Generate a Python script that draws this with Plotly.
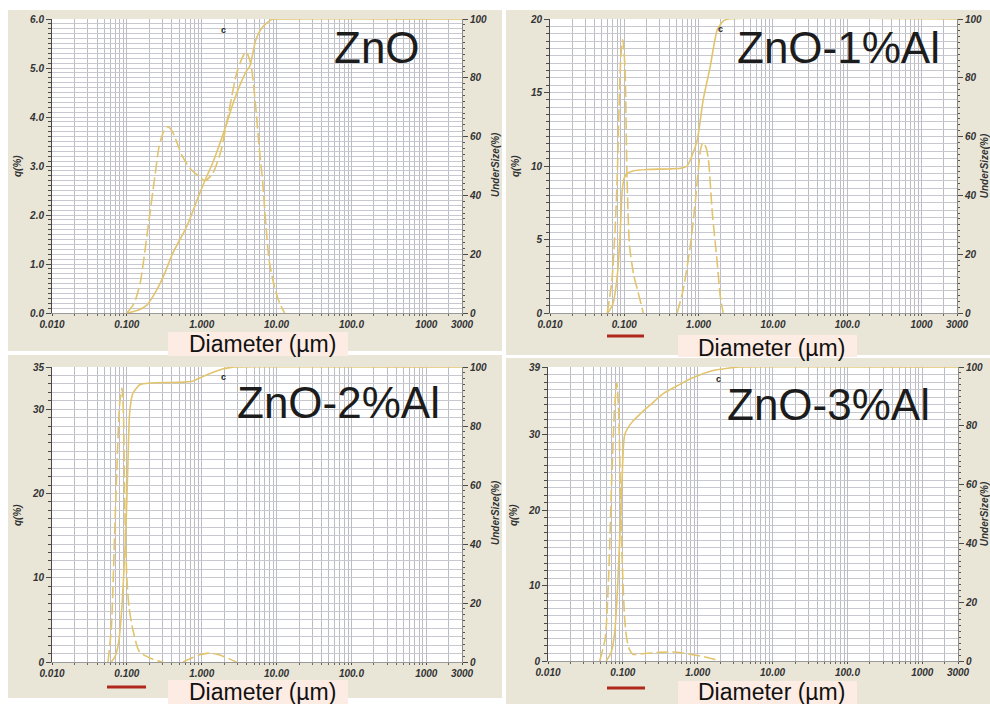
import plotly.graph_objects as go

W, H = 990, 704

# ---------------------------------------------------------------------------
# Particle size distributions: frequency q(%) and cumulative undersize (%)
# against particle diameter (µm).
# ---------------------------------------------------------------------------
zno_q_d = [0.100, 0.125, 0.150, 0.190, 0.235, 0.270, 0.310, 0.350, 0.400, 0.550,
           0.700, 0.900, 1.10, 1.40, 1.80, 2.30, 3.00, 3.90, 4.50, 5.20,
           5.90, 6.50, 7.20, 8.00, 9.50, 11.0, 12.8]
zno_q = [0.0, 0.2, 0.6, 1.7, 2.75, 3.4, 3.7, 3.8, 3.72, 3.2,
         2.95, 2.8, 2.7, 2.85, 3.3, 4.1, 4.95, 5.33, 5.1, 4.3,
         3.33, 2.7, 1.8, 1.05, 0.5, 0.2, 0.0]
zno_u_d = [0.103, 0.140, 0.185, 0.250, 0.320, 0.410, 0.630, 0.940, 1.10, 1.40,
           2.00, 2.60, 3.30, 4.00, 4.40, 5.30, 6.50, 8.50, 9.50, 3000]
zno_u = [0.0, 0.9, 2.7, 7.8, 13.5, 20.3, 29.4, 40.7, 45.0, 51.0,
         62.0, 71.0, 78.0, 82.5, 84.0, 93.0, 97.3, 99.8, 100, 100]

al1_q_d = [0.059, 0.068, 0.075, 0.080, 0.085, 0.090, 0.0955, 0.102, 0.109, 0.118,
           0.135, 0.150, 0.180, None, 0.515, 0.620, 0.770, 0.900, 0.980, 1.07,
           1.15, 1.25, 1.35, 1.53, 1.78, 1.95, 2.14]
al1_q = [0, 2.2, 5.6, 9.0, 14.0, 17.5, 18.6, 16.7, 9.0, 4.5,
         2.5, 1.6, 0, None, 0, 1.6, 4.5, 7.5, 9.5, 11.2,
         11.6, 11.3, 10.5, 6.8, 3.4, 1.2, 0]
al1_u_d = [0.060, 0.070, 0.080, 0.087, 0.094, 0.100, 0.110, 0.130, 0.200, 0.400,
           0.600, 0.700, 0.800, 0.958, 1.15, 1.43, 1.78, 2.14, 2.50, 3000]
al1_u = [0, 3, 12, 25, 42, 46, 47.5, 48.3, 48.8, 49.0,
         49.3, 50.0, 53.0, 58.8, 72.4, 83.7, 96.3, 99.3, 100, 100]

al2_q_d = [0.056, 0.062, 0.069, 0.075, 0.080, 0.086, 0.090, 0.094, 0.100, 0.107,
           0.120, 0.148, 0.220, 0.300, None, 0.56, 0.75, 0.95, 1.28, 1.70,
           2.30, 2.90]
al2_q = [0, 4, 15.7, 25, 30.5, 32.5, 29.5, 18, 10, 6.5,
         3.9, 1.2, 0.35, 0, None, 0, 0.5, 0.85, 1.06, 0.85,
         0.4, 0]
al2_u_d = [0.062, 0.070, 0.078, 0.085, 0.091, 0.097, 0.103, 0.109, 0.120, 0.149,
           0.203, 0.500, 0.757, 0.940, 1.40, 1.90, 2.36, 2.80, 3000]
al2_u = [0, 2, 7, 17, 30, 45, 66, 84.5, 91, 94,
         94.6, 94.8, 95.2, 96.3, 98.1, 99.3, 99.8, 100, 100]

al3_q_d = [0.049, 0.058, 0.065, 0.071, 0.077, 0.083, 0.088, 0.093, 0.099, 0.106,
           0.113, 0.124, 0.136, 0.200, 0.300, 0.420, 0.600, 0.900, 1.30, 1.70,
           1.96]
al3_q = [0, 3, 12, 24, 33, 36.9, 33, 22, 12, 5.5,
         2.9, 1.4, 0.9, 1.0, 1.15, 1.2, 1.1, 0.8, 0.5, 0.2,
         0]
al3_u_d = [0.060, 0.070, 0.078, 0.085, 0.092, 0.098, 0.106, 0.130, 0.170, 0.230,
           0.350, 0.570, 0.800, 1.06, 1.60, 2.50, 3.60, 3000]
al3_u = [0, 3, 10, 25, 45, 63, 77, 81, 84, 87,
         91, 94, 96, 97.3, 98.8, 99.6, 100, 100]

# Axis ticks
x_tickvals = [0.01, 0.1, 1, 10, 100, 1000, 3000]
x_ticktext = ["0.010", "0.100", "1.000", "10.00", "100.0", "1000", "3000"]
u_tickvals = [0, 20, 40, 60, 80, 100]
zno_qticks = [0, 1, 2, 3, 4, 5, 6]
zno_qlabels = ["0.0", "1.0", "2.0", "3.0", "4.0", "5.0", "6.0"]
al1_qticks = [0, 5, 10, 15, 20]
al2_qticks = [0, 10, 20, 30, 35]
al3_qticks = [0, 10, 20, 30, 39]

titles = ["ZnO", "ZnO-1%Al", "ZnO-2%Al", "ZnO-3%Al"]

# ---------------------------------------------------------------------------
# Styling / geometry (pixel units, converted to paper fractions)
# ---------------------------------------------------------------------------
CURVE = "#e2c46c"
BEIGE = "#e9e6d8"
PINK = "#fdece4"
GRID_V = "#bcbcc4"
GRID_H = "#c8c8d0"
AXIS = "#4a4a4a"
TXT = "#333333"


def px(x):
    return x / W


def py(y):
    return 1 - y / H


panels = [
    dict(qd=zno_q_d, q=zno_q, ud=zno_u_d, u=zno_u, qmax=6, qticks=zno_qticks,
         qlabels=zno_qlabels, qminor=0.1, box=(52, 462, 19, 313),
         frame=(8, 502, 10, 351), title_xy=(377, 47),
         diam_box=(168, 348, 332, 356), diam_xy=(262, 344),
         q_lab=(17, 166), u_lab=(495, 165), c_xy=(223, 30)),
    dict(qd=al1_q_d, q=al1_q, ud=al1_u_d, u=al1_u, qmax=20, qticks=al1_qticks,
         qlabels=[str(v) for v in al1_qticks], qminor=0.5, box=(550, 957, 19, 313),
         frame=(506, 990, 10, 355), title_xy=(838, 47),
         diam_box=(678, 857, 335, 357), diam_xy=(771, 348),
         q_lab=(515, 166), u_lab=None, c_xy=(720, 29)),
    dict(qd=al2_q_d, q=al2_q, ud=al2_u_d, u=al2_u, qmax=35, qticks=al2_qticks,
         qlabels=[str(v) for v in al2_qticks], qminor=1, box=(52, 462, 367, 662),
         frame=(8, 502, 355, 698), title_xy=(338, 402),
         diam_box=(168, 348, 680, 704), diam_xy=(262, 691.6),
         q_lab=(17, 515), u_lab=(495, 513), c_xy=(223, 377)),
    dict(qd=al3_q_d, q=al3_q, ud=al3_u_d, u=al3_u, qmax=39, qticks=al3_qticks,
         qlabels=[str(v) for v in al3_qticks], qminor=1, box=(548, 958, 367, 661),
         frame=(506, 990, 358, 704), title_xy=(828, 404),
         diam_box=(678, 857, 681, 704), diam_xy=(771, 691.6),
         q_lab=(513, 515), u_lab=None, c_xy=(718, 379)),
]

underlines = [(607, 644, 336), (107, 146, 687), (607, 645, 688)]

# log-grid positions between the labelled decades
minor_x = []
for dec in range(-2, 4):
    for k in range(2, 10):
        v = k * 10 ** dec
        if v < 3000:
            minor_x.append(v)

tick_font = dict(family="Liberation Sans", size=10, color=TXT,
                 weight="bold", style="italic")

fig = go.Figure()
layout = dict(width=W, height=H, autosize=False,
              margin=dict(l=0, r=0, t=0, b=0, autoexpand=False),
              paper_bgcolor="white", plot_bgcolor="white",
              showlegend=False)
shapes = []
annotations = []

for i, p in enumerate(panels, start=1):
    xa = "x" if i == 1 else f"x{i}"
    ya_l = "y" if i == 1 else f"y{2 * i - 1}"
    ya_r = f"y{2 * i}"
    x0, x1, y0, y1 = p["box"]

    fig.add_trace(go.Scatter(
        x=p["qd"], y=p["q"], mode="lines", xaxis=xa, yaxis=ya_l,
        connectgaps=False, hoverinfo="skip",
        line=dict(color=CURVE, width=1.6, dash="12px,4px",
                  shape="spline", smoothing=0.7)))
    fig.add_trace(go.Scatter(
        x=p["ud"], y=p["u"], mode="lines", xaxis=xa, yaxis=ya_r,
        cliponaxis=False, hoverinfo="skip",
        line=dict(color=CURVE, width=1.6, shape="spline", smoothing=0.6)))

    xkey = "xaxis" if i == 1 else f"xaxis{i}"
    ylkey = "yaxis" if i == 1 else f"yaxis{2 * i - 1}"
    yrkey = f"yaxis{2 * i}"

    layout[xkey] = dict(
        type="log", range=[-2, 3.4771], domain=[px(x0), px(x1)],
        anchor=ya_l, tickmode="array", tickvals=x_tickvals,
        ticktext=x_ticktext, tickfont=tick_font, ticks="outside",
        ticklen=2, tickcolor=AXIS, showgrid=True, gridcolor=GRID_V,
        gridwidth=1, showline=True, linecolor="#9a9a9a", linewidth=1,
        zeroline=False, fixedrange=True, automargin=False,
        minor=dict(tickmode="array", tickvals=minor_x, showgrid=True,
                   gridcolor=GRID_V, gridwidth=1, ticks="outside",
                   ticklen=2, tickcolor="#666"))
    layout[ylkey] = dict(
        range=[0, p["qmax"]], domain=[py(y1), py(y0)], anchor=xa,
        tickmode="array", tickvals=p["qticks"], ticktext=p["qlabels"],
        tickfont=tick_font, ticks="outside", ticklen=5, tickcolor=AXIS,
        showgrid=True, gridcolor=GRID_H, gridwidth=1, showline=True,
        linecolor=AXIS, linewidth=1, zeroline=False, fixedrange=True,
        automargin=False,
        minor=dict(tickmode="linear", tick0=0, dtick=p["qminor"],
                   showgrid=True, gridcolor=GRID_H, gridwidth=1,
                   ticks="outside", ticklen=3, tickcolor=AXIS))
    right = dict(
        range=[0, 100], overlaying=ya_l, side="right", anchor=xa,
        tickmode="array", tickvals=u_tickvals, tickfont=tick_font,
        ticks="outside", ticklen=5, tickcolor=AXIS, showgrid=False,
        showline=True, linecolor="#8a8a8a", linewidth=1, zeroline=False,
        fixedrange=True, automargin=False,
        minor=dict(tickmode="linear", tick0=0, dtick=2, ticks="outside",
                   ticklen=2, tickcolor="#555"))
    if p["u_lab"] is None:
        # label sits at the window edge; an axis title is clipped there
        right["title"] = dict(text="UnderSize(%)", font=tick_font, standoff=9)
    layout[yrkey] = right

    fx0, fx1, fy0, fy1 = p["frame"]
    shapes.append(dict(type="rect", xref="paper", yref="paper",
                       x0=px(fx0), x1=px(fx1), y0=py(fy1), y1=py(fy0),
                       fillcolor=BEIGE, line=dict(width=0), layer="below"))
    shapes.append(dict(type="rect", xref="paper", yref="paper",
                       x0=px(x0), x1=px(x1), y0=py(y1), y1=py(y0),
                       fillcolor="white", line=dict(width=0), layer="below"))

    bx0, bx1, by0, by1 = p["diam_box"]
    shapes.append(dict(type="rect", xref="paper", yref="paper",
                       x0=px(bx0), x1=px(bx1), y0=py(by1), y1=py(by0),
                       fillcolor=PINK, line=dict(width=0), layer="above"))

    tx, ty = p["title_xy"]
    annotations.append(dict(
        text=titles[i - 1], xref="paper", yref="paper", x=px(tx), y=py(ty),
        xanchor="center", yanchor="middle", showarrow=False,
        font=dict(family="Liberation Sans", size=44, color="#1c1c1c")))
    dx, dy = p["diam_xy"]
    annotations.append(dict(
        text="Diameter (µm)", xref="paper", yref="paper", x=px(dx), y=py(dy),
        xanchor="center", yanchor="middle", showarrow=False,
        font=dict(family="Liberation Sans", size=23, color="#111111")))
    qx, qy = p["q_lab"]
    annotations.append(dict(
        text="q(%)", xref="paper", yref="paper", x=px(qx), y=py(qy),
        xanchor="center", yanchor="middle", showarrow=False, textangle=-90,
        font=tick_font))
    if p["u_lab"] is not None:
        ux, uy = p["u_lab"]
        annotations.append(dict(
            text="UnderSize(%)", xref="paper", yref="paper", x=px(ux), y=py(uy),
            xanchor="center", yanchor="middle", showarrow=False, textangle=-90,
            font=tick_font))
    cx, cy = p["c_xy"]
    annotations.append(dict(
        text="c", xref="paper", yref="paper", x=px(cx), y=py(cy),
        xanchor="center", yanchor="middle", showarrow=False,
        font=dict(family="Liberation Sans", size=9, color="#222",
                  weight="bold")))

for ux0, ux1, uy in underlines:
    shapes.append(dict(type="line", xref="paper", yref="paper",
                       x0=px(ux0), x1=px(ux1), y0=py(uy), y1=py(uy),
                       line=dict(color="#b0281c", width=3), layer="above"))

layout["shapes"] = shapes
layout["annotations"] = annotations
fig.update_layout(**layout)

fig.write_html("out.html")
